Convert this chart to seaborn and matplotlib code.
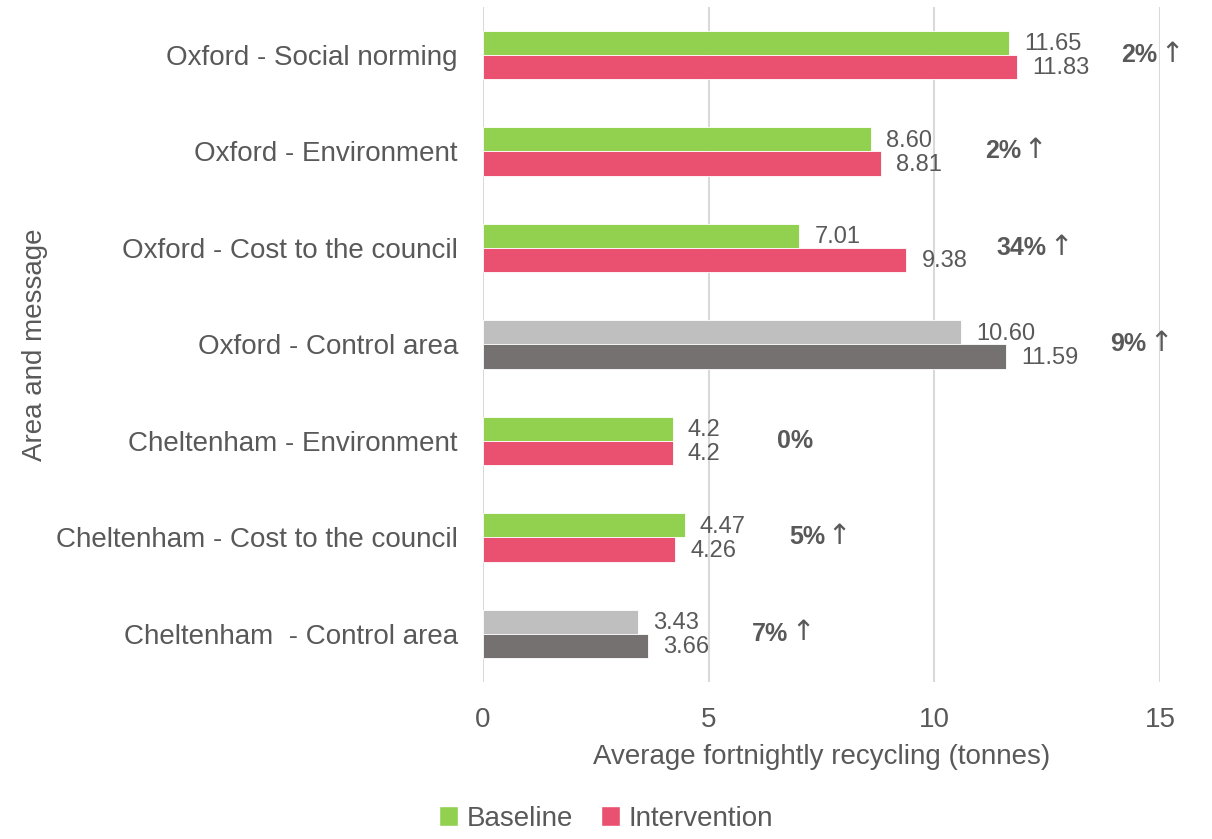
import matplotlib
matplotlib.use("Agg")
import matplotlib.pyplot as plt
import seaborn as sns
import pandas as pd
from matplotlib.patches import Patch

categories = ["Oxford - Social norming", "Oxford - Environment", "Oxford - Cost to the council",
              "Oxford - Control area", "Cheltenham - Environment", "Cheltenham - Cost to the council",
              "Cheltenham  - Control area"]
baseline = [11.65, 8.60, 7.01, 10.60, 4.2, 4.47, 3.43]
intervention = [11.83, 8.81, 9.38, 11.59, 4.2, 4.26, 3.66]
baseline_labels = ["11.65", "8.60", "7.01", "10.60", "4.2", "4.47", "3.43"]
intervention_labels = ["11.83", "8.81", "9.38", "11.59", "4.2", "4.26", "3.66"]
change_labels = ["2%", "2%", "34%", "9%", "0%", "5%", "7%"]
change_arrow = [True, True, True, True, False, True, True]
control_rows = [3, 6]
series_names = ["Baseline", "Intervention"]
x_ticks = [0, 5, 10, 15]

GREEN = "#92D050"
PINK = "#EA5070"
LIGHT_GRAY = "#BFBFBF"
DARK_GRAY = "#767171"
TEXT = "#595959"

sns.set_style("white")
plt.rcParams["font.family"] = ["Liberation Sans", "DejaVu Sans"]

df = pd.DataFrame({
    "category": categories * 2,
    "series": [series_names[0]] * len(categories) + [series_names[1]] * len(categories),
    "value": baseline + intervention,
})

fig = plt.figure(figsize=(12.12, 8.39), dpi=100)
ax = fig.add_axes([0.3985, 0.187, 0.5585, 0.805])

sns.barplot(data=df, y="category", x="value", hue="series", hue_order=series_names,
            palette=[GREEN, PINK], orient="h", width=0.5, ax=ax, legend=False,
            edgecolor="white", linewidth=0.6, errorbar=None, saturation=1)

# recolor control areas in grey
for i in control_rows:
    ax.containers[0][i].set_facecolor(LIGHT_GRAY)
    ax.containers[1][i].set_facecolor(DARK_GRAY)

ax.set_xlim(0, 15)
ax.set_xticks(x_ticks)
ax.xaxis.grid(True, color="#D9D9D9", linewidth=1.5)
ax.set_axisbelow(True)
for s in ax.spines.values():
    s.set_visible(False)
ax.tick_params(axis="both", length=0, labelsize=20, colors=TEXT)
ax.tick_params(axis="y", pad=18)
ax.tick_params(axis="x", pad=18)
ax.set_xlabel("Average fortnightly recycling (tonnes)", fontsize=20, color=TEXT, labelpad=8)
ax.set_ylabel("Area and message", fontsize=20, color=TEXT, labelpad=6)

# value labels
for bars, labels in zip(ax.containers, [baseline_labels, intervention_labels]):
    for bar, lab in zip(bars, labels):
        ax.annotate(lab, (bar.get_width(), bar.get_y() + bar.get_height() / 2),
                    xytext=(11, -1), textcoords="offset points", ha="left", va="center",
                    fontsize=17, color=TEXT)

# change labels
for i, (lab, arrow) in enumerate(zip(change_labels, change_arrow)):
    b = ax.containers[0][i]
    end = max(baseline[i], intervention[i])
    y = b.get_y() + b.get_height()
    ax.annotate(lab, (end, y), xytext=(101, 0), textcoords="offset points", ha="right",
                va="center", fontsize=18, fontweight="bold", color=TEXT, annotation_clip=False)
    if arrow:
        ax.annotate("\u2191", (end, y), xytext=(103, 1), textcoords="offset points", ha="left",
                    va="center", fontsize=20, color=TEXT, family="DejaVu Sans",
                    annotation_clip=False)

handles = [Patch(facecolor=GREEN, label=series_names[0]), Patch(facecolor=PINK, label=series_names[1])]
fig.legend(handles=handles, loc="center", bbox_to_anchor=(0.5, 0.024), ncol=2, frameon=False,
           fontsize=20, labelcolor=TEXT, handlelength=0.7, handleheight=0.7, handletextpad=0.3,
           columnspacing=1.0)

fig.savefig("out.png", dpi=100)
